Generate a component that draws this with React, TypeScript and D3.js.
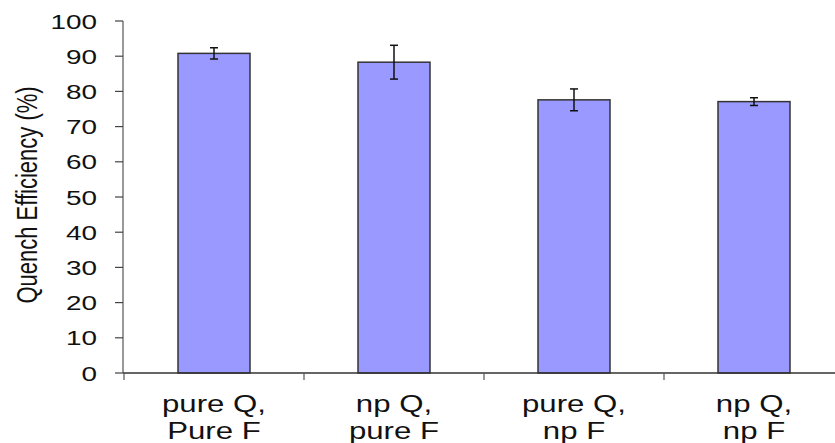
import React, { useRef, useEffect } from 'react';
import * as d3 from 'd3';

const categories = ['pure Q,|Pure F', 'np Q,|pure F', 'pure Q,|np F', 'np Q,|np F'];
const efficiency = [90.8, 88.3, 77.6, 77.1];
const errors = [1.6, 4.8, 3.1, 1.1];
const yTicks = [0, 10, 20, 30, 40, 50, 60, 70, 80, 90, 100];

function App() {
  const chartRef = useRef<SVGSVGElement>(null);

  useEffect(() => {
    drawChart();
  }, []);

  const drawChart = () => {
    const svgWidth = 835;
    const svgHeight = 443;
    const stretch = 1.33; // source text is wider than it is tall

    d3.select(chartRef.current).selectAll('*').remove();

    const svg = d3.select(chartRef.current)
      .attr('width', svgWidth)
      .attr('height', svgHeight);

    const data = categories.map((c, i) => ({ name: c, value: efficiency[i], err: errors[i] }));

    const xScale = d3.scaleBand()
      .domain(categories)
      .range([124, 844])
      .padding(0);

    const yScale = d3.scaleLinear()
      .domain([0, 100])
      .range([373, 21]);

    const barWidth = xScale.bandwidth() * 0.4;
    const font = 'Liberation Sans, Arial, sans-serif';

    // bars
    svg.selectAll('.bar')
      .data(data)
      .enter().append('rect')
      .attr('class', 'bar')
      .attr('x', d => xScale(d.name)! + (xScale.bandwidth() - barWidth) / 2)
      .attr('y', d => yScale(d.value))
      .attr('width', barWidth)
      .attr('height', d => yScale(0) - yScale(d.value))
      .attr('fill', '#9999ff')
      .attr('stroke', '#333')
      .attr('stroke-width', 1.5);

    // error bars
    const errG = svg.selectAll('.err')
      .data(data)
      .enter().append('g')
      .attr('class', 'err')
      .attr('stroke', '#111')
      .attr('stroke-width', 1.5);

    const cx = (d: any) => xScale(d.name)! + xScale.bandwidth() / 2;
    errG.append('line')
      .attr('x1', cx).attr('x2', cx)
      .attr('y1', d => yScale(d.value + d.err))
      .attr('y2', d => yScale(d.value - d.err));
    errG.append('line')
      .attr('x1', d => cx(d) - 4).attr('x2', d => cx(d) + 4)
      .attr('y1', d => yScale(d.value + d.err))
      .attr('y2', d => yScale(d.value + d.err));
    errG.append('line')
      .attr('x1', d => cx(d) - 4).attr('x2', d => cx(d) + 4)
      .attr('y1', d => yScale(d.value - d.err))
      .attr('y2', d => yScale(d.value - d.err));

    // y axis
    svg.append('line')
      .attr('x1', 123).attr('x2', 123)
      .attr('y1', yScale(100)).attr('y2', yScale(0))
      .attr('stroke', '#777')
      .attr('stroke-width', 1.5);

    svg.selectAll('.ytick')
      .data(yTicks)
      .enter().append('line')
      .attr('class', 'ytick')
      .attr('x1', 115).attr('x2', 123)
      .attr('y1', d => yScale(d)).attr('y2', d => yScale(d))
      .attr('stroke', '#444')
      .attr('stroke-width', 1.2);

    svg.selectAll('.ylabel')
      .data(yTicks)
      .enter().append('text')
      .attr('class', 'ylabel')
      .attr('transform', d => `translate(97,${yScale(d)}) scale(${stretch},1)`)
      .attr('dy', '0.36em')
      .attr('text-anchor', 'end')
      .attr('font-family', font)
      .attr('font-size', 21)
      .attr('fill', '#111')
      .text(d => d);

    // x axis
    svg.append('line')
      .attr('x1', 123).attr('x2', 844)
      .attr('y1', yScale(0)).attr('y2', yScale(0))
      .attr('stroke', '#333')
      .attr('stroke-width', 1.5);

    svg.selectAll('.xtick')
      .data(categories)
      .enter().append('line')
      .attr('class', 'xtick')
      .attr('x1', d => xScale(d)!).attr('x2', d => xScale(d)!)
      .attr('y1', yScale(0)).attr('y2', yScale(0) + 7)
      .attr('stroke', '#555')
      .attr('stroke-width', 1.2);

    const xLabels = svg.selectAll('.xlabel')
      .data(categories)
      .enter().append('text')
      .attr('class', 'xlabel')
      .attr('transform', d => `translate(${xScale(d)! + xScale.bandwidth() / 2},412) scale(1.3,1)`)
      .attr('text-anchor', 'middle')
      .attr('font-family', font)
      .attr('font-size', 24)
      .attr('fill', '#111');

    xLabels.selectAll('tspan')
      .data(d => d.split('|'))
      .enter().append('tspan')
      .attr('x', 0)
      .attr('y', (d, i) => i * 27)
      .text(d => d);

    // axis title
    svg.append('text')
      .attr('transform', `translate(37,195) scale(${stretch},1) rotate(-90)`)
      .attr('text-anchor', 'middle')
      .attr('font-family', font)
      .attr('font-size', 22)
      .attr('fill', '#111')
      .text('Quench Efficiency (%)');
  };

  return (
    <svg ref={chartRef} style={{ position: 'absolute', left: 0, top: 0, background: '#fff' }}></svg>
  );
}

export default App;
